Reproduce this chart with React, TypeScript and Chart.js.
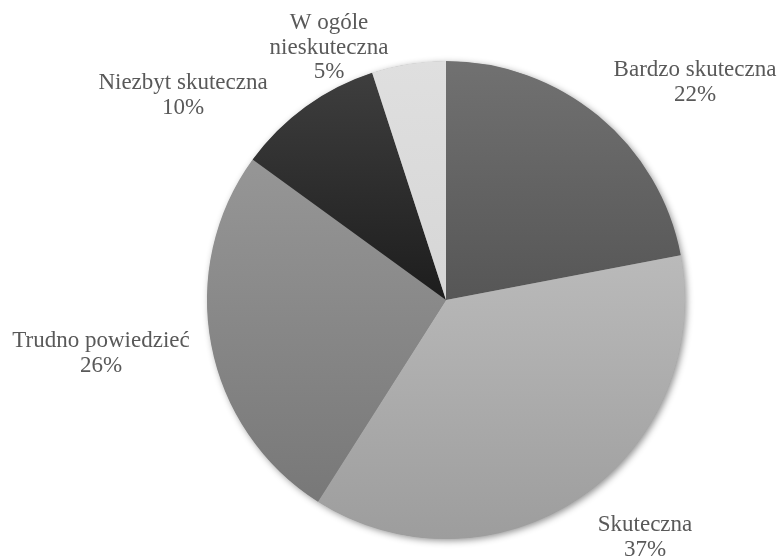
import React, { useEffect, useRef } from "react";
import { Chart, registerables } from "chart.js";

Chart.register(...registerables);

const CATEGORIES = ["Bardzo skuteczna", "Skuteczna", "Trudno powiedzieć", "Niezbyt skuteczna", "W ogóle nieskuteczna"];
const VALUES = [22, 37, 26, 10, 5];
const LABEL_LINES = [["Bardzo skuteczna"], ["Skuteczna"], ["Trudno powiedzieć"], ["Niezbyt skuteczna"], ["W ogóle", "nieskuteczna"]];
const GRADIENT_TOP = ["#717171", "#bababa", "#969696", "#3e3e3e", "#dfdfdf"];
const GRADIENT_BOTTOM = ["#565656", "#9d9d9d", "#787878", "#1d1d1d", "#d6d6d6"];
// label anchor (first baseline, centre) relative to pie centre, in pixels
const LABEL_OFFSETS = [
  [249, -224],
  [199, 231],
  [-345, 47],
  [-263, -211],
  [-117, -271],
];

const FONT = '23px "Liberation Serif", "Times New Roman", serif';
const LINE_H = 24.5;

const gradientPlugin = {
  id: "sliceGradients",
  beforeDatasetsDraw(chart: any) {
    const ctx = chart.ctx;
    const meta = chart.getDatasetMeta(0);
    meta.data.forEach((arc: any, i: number) => {
      const { x, y, startAngle, endAngle, outerRadius } = arc;
      const ys = [y, y + Math.sin(startAngle) * outerRadius, y + Math.sin(endAngle) * outerRadius];
      for (const a of [-Math.PI / 2, Math.PI / 2, (3 * Math.PI) / 2]) {
        if (a >= startAngle && a <= endAngle) ys.push(y + Math.sin(a) * outerRadius);
      }
      const y0 = Math.min(...ys);
      const y1 = Math.max(...ys);
      const g = ctx.createLinearGradient(0, y0, 0, y1);
      g.addColorStop(0, GRADIENT_TOP[i]);
      g.addColorStop(1, GRADIENT_BOTTOM[i]);
      arc.options.backgroundColor = g;
    });
    const a0 = meta.data[0];
    if (a0) {
      ctx.save();
      ctx.shadowColor = "rgba(0,0,0,0.45)";
      ctx.shadowBlur = 7;
      ctx.shadowOffsetX = 2;
      ctx.shadowOffsetY = 2;
      ctx.fillStyle = "#888";
      ctx.beginPath();
      ctx.arc(a0.x, a0.y, a0.outerRadius - 0.5, 0, Math.PI * 2);
      ctx.fill();
      ctx.restore();
    }
  },
  afterDatasetsDraw(chart: any) {
    const ctx = chart.ctx;
    const meta = chart.getDatasetMeta(0);
    const a0 = meta.data[0];
    if (!a0) return;
    ctx.save();
    ctx.font = FONT;
    ctx.fillStyle = "#595959";
    ctx.textAlign = "center";
    ctx.textBaseline = "alphabetic";
    VALUES.forEach((v, i) => {
      const [dx, dy] = LABEL_OFFSETS[i];
      const lines = [...LABEL_LINES[i], v + "%"];
      lines.forEach((t, k) => {
        ctx.fillText(t, a0.x + dx, a0.y + dy + k * LINE_H);
      });
    });
    ctx.restore();
  },
};

export default function App() {
  const ref = useRef<HTMLCanvasElement | null>(null);
  useEffect(() => {
    if (!ref.current) return;
    const chart = new Chart(ref.current, {
      type: "pie",
      data: {
        labels: CATEGORIES,
        datasets: [
          {
            data: VALUES,
            backgroundColor: GRADIENT_TOP,
            borderWidth: 0,
          },
        ],
      },
      options: {
        animation: false,
        responsive: false,
        maintainAspectRatio: false,
        layout: { padding: { left: 207, right: 97, top: 61, bottom: 19 } },
        plugins: {
          legend: { display: false },
          tooltip: { enabled: false },
        },
      },
      plugins: [gradientPlugin],
    });
    return () => chart.destroy();
  }, []);
  return (
    <div style={{ position: "absolute", left: 0, top: 0, width: 782, height: 558, background: "#fff" }}>
      <canvas ref={ref} width={782} height={558} style={{ width: 782, height: 558 }} />
    </div>
  );
}
